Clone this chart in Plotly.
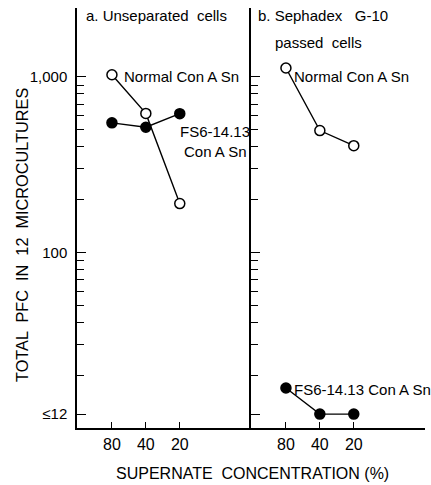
import plotly.graph_objects as go

conc = ["80", "40", "20"]
a_normal = [1030, 620, 190]
a_fs6 = [548, 517, 618]
b_normal = [1125, 495, 406]
b_fs6 = [16.9, 12, 12]

y_tickvals = [12, 100, 1000]
y_ticktext = ["≤12", "100", "1,000"]
y_minor = [20, 30, 40, 50, 60, 70, 80, 90, 200, 300, 400, 500, 600, 700, 800, 900]

W, H = 431, 485
FONT = "Liberation Sans"

def px_x(p):
    return p / W

def px_y(p):
    return 1 - p / H

fig = go.Figure()

def add_series(xref, yref, y, filled):
    fig.add_trace(go.Scatter(
        x=[0, 1, 2], y=y, xaxis=xref, yaxis=yref, mode="lines+markers",
        line=dict(color="black", width=1.4),
        marker=dict(size=10, symbol="circle",
                    color="black" if filled else "white",
                    line=dict(color="black", width=1.5)),
        showlegend=False, hoverinfo="skip"))

add_series("x", "y", a_fs6, True)
add_series("x", "y", a_normal, False)
add_series("x2", "y2", b_fs6, True)
add_series("x2", "y2", b_normal, False)

xr = [-1.03, 4.1]
yr = [1.0, 3.393]
common_x = dict(range=xr, tickmode="array", tickvals=[0, 1, 2], ticktext=conc,
                ticks="inside", ticklen=6, tickwidth=1.3, tickcolor="black",
                showline=True, linecolor="black", linewidth=1.5, mirror=False,
                showgrid=False, zeroline=False, automargin=False,
                tickfont=dict(family=FONT, size=16, color="black"), ticklabelstandoff=1)
common_y = dict(type="log", range=yr, tickmode="array", tickvals=y_tickvals,
                ticks="inside", ticklen=9, tickwidth=1.3, tickcolor="black",
                minor=dict(tickvals=y_minor, ticks="inside", ticklen=7, tickwidth=1.2,
                           tickcolor="black", showgrid=False),
                showline=True, linecolor="black", linewidth=1.5,
                showgrid=False, zeroline=False, automargin=False,
                domain=[px_y(428), px_y(8)])

fig.update_layout(
    width=W, height=H, margin=dict(l=0, r=0, t=0, b=0),
    paper_bgcolor="white", plot_bgcolor="white",
    font=dict(family=FONT, size=15, color="black"),
    xaxis=dict(domain=[px_x(77), px_x(251)], anchor="y", **common_x),
    xaxis2=dict(domain=[px_x(251), px_x(425)], anchor="y2", **common_x),
    yaxis=dict(anchor="x", ticktext=y_ticktext, showticklabels=True, ticklabelstandoff=5,
               tickfont=dict(family=FONT, size=15, color="black"), **common_y),
    yaxis2=dict(anchor="x2", ticktext=y_ticktext, showticklabels=False, **common_y),
)

def ann(text, x, y, size=15, xanchor="left", yanchor="middle", angle=0):
    fig.add_annotation(text=text, x=px_x(x), y=px_y(y), xref="paper", yref="paper",
                       showarrow=False, xanchor=xanchor, yanchor=yanchor, textangle=angle,
                       font=dict(family=FONT, size=size, color="black"))

ann("a. Unseparated  cells", 84, 15)
ann("b. Sephadex   G-10", 256, 15)
ann("passed  cells", 273, 42)
ann("Normal Con A Sn", 122, 76)
ann("Normal Con A Sn", 292, 76)
ann("FS6-14.13", 178, 132)
ann("Con A Sn", 182, 151)
ann("FS6-14.13 Con A Sn", 292, 389)
ann("SUPERNATE  CONCENTRATION (%)", 252.5, 473, size=16, xanchor="center")
ann("TOTAL  PFC  IN  12  MICROCULTURES", 22, 235, size=16.3, xanchor="center", angle=-90)

fig.write_html("out.html")
